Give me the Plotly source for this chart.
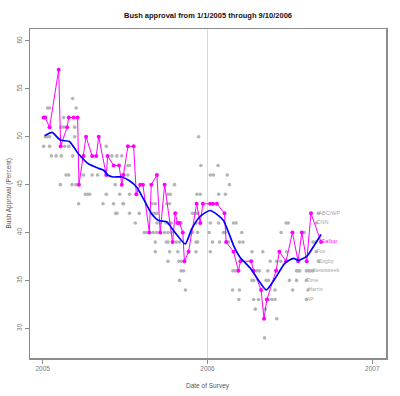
import plotly.graph_objects as go

# ---- Data (decimal years) ----
gallup_year = [2005.006, 2005.015, 2005.042, 2005.097, 2005.109, 2005.148, 2005.158, 2005.188,
               2005.212, 2005.220, 2005.248, 2005.263, 2005.300, 2005.325, 2005.340, 2005.386,
               2005.394, 2005.430, 2005.463, 2005.480, 2005.490, 2005.517, 2005.552, 2005.568,
               2005.592, 2005.608, 2005.647, 2005.659, 2005.693, 2005.713, 2005.740, 2005.788,
               2005.804, 2005.818, 2005.830, 2005.850, 2005.860, 2005.885, 2005.934, 2005.956,
               2005.972, 2006.016, 2006.033, 2006.057, 2006.103, 2006.113, 2006.158, 2006.188,
               2006.200, 2006.265, 2006.280, 2006.325, 2006.343, 2006.360, 2006.416, 2006.436,
               2006.477, 2006.515, 2006.550, 2006.572, 2006.602, 2006.628, 2006.689]
gallup_value = [52, 52, 51, 57, 49, 51, 52, 52,
                52, 45, 48, 50, 48, 48, 50, 46,
                48, 47, 47, 45, 46, 49, 49, 44,
                45, 45, 40, 45, 46, 40, 45, 39,
                42, 41, 41, 40, 37, 38, 43, 41,
                43, 43, 43, 43, 42, 39, 38, 36,
                37, 37, 36, 34, 31, 33, 36, 38,
                37, 40, 37, 40, 37, 42, 39]

poll_year = [2005.006, 2005.016, 2005.030, 2005.042, 2005.042, 2005.030, 2005.042, 2005.053,
             2005.081, 2005.113, 2005.110, 2005.127, 2005.127, 2005.133, 2005.158, 2005.142,
             2005.158, 2005.107, 2005.178, 2005.202, 2005.182, 2005.203, 2005.194, 2005.194,
             2005.182, 2005.218, 2005.248, 2005.259, 2005.273, 2005.285, 2005.300, 2005.333,
             2005.366, 2005.386, 2005.386, 2005.420, 2005.450, 2005.480, 2005.430, 2005.440,
             2005.467, 2005.490, 2005.480, 2005.517, 2005.517, 2005.527, 2005.527, 2005.487,
             2005.443, 2005.451, 2005.527, 2005.586, 2005.562, 2005.616, 2005.628,
             2005.663, 2005.683, 2005.754, 2005.770,
             2005.663, 2005.679, 2005.693, 2005.910, 2005.925, 2005.940,
             2005.693, 2005.713, 2005.750, 2005.770, 2005.780, 2005.830, 2005.840, 2005.930,
             2005.670, 2005.690, 2005.740, 2005.760, 2005.780, 2005.910, 2005.940,
             2005.683, 2005.750, 2005.760, 2005.810, 2005.830, 2005.930, 2005.940,
             2005.683, 2005.770, 2005.820, 2005.930,
             2005.760, 2005.826, 2005.840, 2005.840, 2005.855, 2005.830, 2005.866,
             2005.760, 2005.774, 2005.936, 2005.956, 2005.800, 2005.960, 2005.946,
             2006.064, 2006.017, 2006.036, 2006.120, 2006.133, 2006.068, 2006.108,
             2006.017, 2006.067, 2006.158, 2006.173, 2006.477, 2006.490,
             2006.010, 2006.097, 2006.107, 2006.208, 2006.447, 2006.588,
             2006.030, 2006.073, 2006.127, 2006.194, 2006.215, 2006.640, 2006.655,
             2006.017, 2006.270, 2006.336, 2006.480,
             2006.380, 2006.420, 2006.445,
             2006.154, 2006.168, 2006.182, 2006.300, 2006.315, 2006.366, 2006.540, 2006.550,
             2006.560, 2006.600, 2006.615, 2006.625,
             2006.270, 2006.280, 2006.355, 2006.370, 2006.497, 2006.540,
             2006.152, 2006.194, 2006.410, 2006.517,
             2006.190, 2006.280, 2006.310, 2006.370, 2006.390, 2006.410,
             2006.290, 2006.350, 2006.420, 2006.346]
poll_value = [49, 50, 50, 50, 49, 53, 53, 48,
              48, 48, 51, 51, 52, 49, 49, 46,
              46, 45, 45, 45, 54, 53, 51, 50,
              48, 43, 46, 44, 44, 44, 46, 46,
              43, 44, 49, 48, 48, 48, 43, 45,
              44, 43, 46, 46, 47, 47, 44, 43,
              42, 42, 42, 42, 41, 40, 40,
              43, 43, 43, 43,
              42, 42, 42, 42, 42, 42,
              41, 41, 41, 41, 41, 41, 41, 41,
              40, 40, 40, 40, 40, 40, 40,
              39, 39, 39, 39, 39, 39, 39,
              38, 38, 38, 38,
              37, 37, 37, 36, 36, 35, 34,
              44, 44, 44, 44, 45, 47, 50,
              47, 46, 46, 46, 45, 44, 44,
              41, 41, 41, 41, 41, 41,
              40, 40, 40, 40, 40, 40,
              39, 39, 39, 39, 39, 39, 39,
              38, 38, 38, 38,
              37, 37, 37,
              36, 36, 36, 36, 36, 36, 36, 36,
              36, 36, 36, 36,
              35, 35, 35, 35, 35, 35,
              34, 34, 34, 34,
              33, 33, 33, 33, 33, 33,
              32, 32, 31, 29]

trend_year = [2005.012, 2005.057, 2005.107, 2005.162, 2005.218, 2005.279, 2005.340, 2005.370,
              2005.394, 2005.426, 2005.480, 2005.527, 2005.572, 2005.612, 2005.663, 2005.703,
              2005.754, 2005.794, 2005.865, 2005.905, 2005.956, 2006.014, 2006.057, 2006.097,
              2006.162, 2006.198, 2006.259, 2006.356, 2006.410, 2006.470, 2006.521, 2006.552,
              2006.602, 2006.653, 2006.689]
trend_value = [50.1, 50.45, 49.65, 49.5, 48.2, 47.15, 46.7, 46.5,
               46.0, 45.8, 45.8, 45.4, 44.7, 43.5, 41.9, 41.25,
               41.1, 40.2, 38.8, 40.4, 41.7, 42.3, 41.9, 41.25,
               38.5, 37.4, 36.3, 34.0, 35.2, 36.8, 37.3, 37.1,
               37.5, 38.8, 39.8]

label_names = ["ABC/WP", "CNN", "Fox", "Zogby", "Newsweek", "Time", "Harris", "AP"]
label_year = [2006.673, 2006.662, 2006.660, 2006.673, 2006.640, 2006.600, 2006.610, 2006.600]
label_value = [42, 41, 38, 37, 36, 35, 34, 33]

x_ticks = [2005, 2006, 2007]
y_ticks = [30, 35, 40, 45, 50, 55, 60]

GRAY = "#b4b4b4"
MAG = "#ff00ff"
FONT = "Liberation Sans, Arial, sans-serif"

fig = go.Figure()

fig.add_trace(go.Scatter(x=poll_year + label_year, y=poll_value + label_value, mode="markers",
                         marker=dict(color=GRAY, size=3.6, line=dict(width=0)),
                         hoverinfo="skip", showlegend=False))

fig.add_trace(go.Scatter(x=label_year, y=label_value, mode="text", text=label_names,
                         textposition="middle right",
                         textfont=dict(family=FONT, size=5.5, color="#a8a8a8"),
                         showlegend=False, hoverinfo="skip"))

fig.add_trace(go.Scatter(x=gallup_year, y=gallup_value, mode="lines+markers",
                         line=dict(color=MAG, width=1),
                         marker=dict(color=MAG, size=4),
                         showlegend=False, hoverinfo="skip"))

fig.add_trace(go.Scatter(x=[gallup_year[-1]], y=[gallup_value[-1]], mode="text",
                         text=["Gallup"], textposition="middle right",
                         textfont=dict(family=FONT, size=5.5, color=MAG),
                         showlegend=False, hoverinfo="skip"))

fig.add_trace(go.Scatter(x=trend_year, y=trend_value, mode="lines",
                         line=dict(color="#0000ff", width=1.7, shape="spline", smoothing=0.5),
                         showlegend=False, hoverinfo="skip"))

fig.add_shape(type="line", xref="x", yref="paper", x0=2006, x1=2006, y0=0, y1=1,
              line=dict(color="#d8d8d8", width=1), layer="below")

plot_w = 400 - 30 - 14
plot_h = 396 - 29 - 38

fig.update_layout(
    width=400, height=396,
    margin=dict(l=30, r=14, t=29, b=38, pad=0),
    paper_bgcolor="white", plot_bgcolor="white",
    hovermode=False,
    font=dict(family=FONT, size=6.5, color="#666666"),
    title=dict(text="<b>Bush approval from 1/1/2005 through 9/10/2006</b>",
               x=0.5, xref="paper", xanchor="center",
               y=1 - 15 / 396, yref="container", yanchor="middle",
               font=dict(family=FONT, size=7.5, color="#111111")),
    xaxis=dict(range=[2004.923, 2007.083], tickvals=x_ticks, ticktext=[str(v) for v in x_ticks],
               showgrid=False, zeroline=False, showline=True, mirror=True,
               linecolor="#8c8c8c", linewidth=1.5, ticks="outside", ticklen=4,
               tickcolor="#8c8c8c", tickfont=dict(size=6.5, color="#777777")),
    yaxis=dict(range=[26.9, 61.25], tickvals=y_ticks, showgrid=False, zeroline=False,
               showline=True, mirror=True, linecolor="#8c8c8c", linewidth=1.5,
               ticks="outside", ticklen=4, tickcolor="#8c8c8c", tickangle=-90,
               tickfont=dict(size=6.5, color="#777777")),
    annotations=[
        dict(text="Date of Survey", x=0.5, xref="paper", y=-(386 - (396 - 38)) / plot_h,
             yref="paper", yanchor="middle",
             showarrow=False, font=dict(size=6.5, color="#555555")),
        dict(text="Bush Approval (Percent)", x=-(30 - 8) / plot_w, xref="paper",
             xanchor="center", y=0.5, yref="paper",
             textangle=-90, showarrow=False, font=dict(size=6.5, color="#555555")),
    ],
)

fig.write_html("out.html", config={"displayModeBar": False, "staticPlot": True},
               post_script="document.body.style.margin='0';")
